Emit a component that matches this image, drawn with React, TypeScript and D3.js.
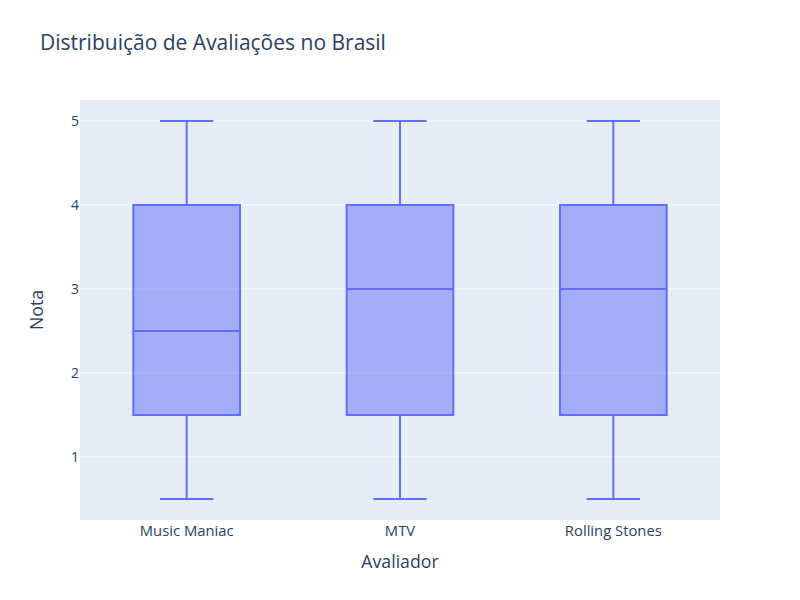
import React from "react";
import * as d3 from "d3";

const categories = ["Music Maniac", "MTV", "Rolling Stones"];
const mins = [0.5, 0.5, 0.5];
const q1s = [1.5, 1.5, 1.5];
const medians = [2.5, 3, 3];
const q3s = [4, 4, 4];
const maxs = [5, 5, 5];
const yTicks = [1, 2, 3, 4, 5];

const W = 800, H = 600;
const M = { l: 80, r: 80, t: 100, b: 80 };
const FONT = '"Open Sans", "Noto Sans", sans-serif';
const TXT = "#2a3f5f";
const LINE = "#636efa";

export default function App() {
  const x = d3.scaleBand<string>().domain(categories).range([M.l, W - M.r]).padding(0);
  const y = d3.scaleLinear().domain([0.25, 5.25]).range([H - M.b, M.t]);
  const bw = x.bandwidth() * 0.5;
  const ww = bw * 0.5;
  return (
    <svg width={W} height={H} style={{ position: "absolute", left: 0, top: 0, background: "#fff" }}>
      <rect x={M.l} y={M.t} width={W - M.l - M.r} height={H - M.t - M.b} fill="#E5ECF6" />
      {yTicks.map((t) => (
        <g key={t}>
          <line x1={M.l} x2={W - M.r} y1={y(t)} y2={y(t)} stroke="#fff" strokeWidth={1} />
          <text x={M.l - 1} y={y(t)} dy="0.36em" textAnchor="end" fontFamily={FONT} fontSize={14} fill={TXT}>
            {t}
          </text>
        </g>
      ))}
      {categories.map((c, i) => {
        const cx = (x(c) as number) + x.bandwidth() / 2;
        return (
          <g key={c}>
            <line x1={cx} x2={cx} y1={y(maxs[i])} y2={y(q3s[i])} stroke={LINE} strokeWidth={2} />
            <line x1={cx} x2={cx} y1={y(q1s[i])} y2={y(mins[i])} stroke={LINE} strokeWidth={2} />
            <line x1={cx - ww / 2} x2={cx + ww / 2} y1={y(maxs[i])} y2={y(maxs[i])} stroke={LINE} strokeWidth={2} />
            <line x1={cx - ww / 2} x2={cx + ww / 2} y1={y(mins[i])} y2={y(mins[i])} stroke={LINE} strokeWidth={2} />
            <rect
              x={cx - bw / 2}
              y={y(q3s[i])}
              width={bw}
              height={y(q1s[i]) - y(q3s[i])}
              fill="rgba(99,110,250,0.5)"
              stroke={LINE}
              strokeWidth={2}
            />
            <line x1={cx - bw / 2} x2={cx + bw / 2} y1={y(medians[i])} y2={y(medians[i])} stroke={LINE} strokeWidth={2} />
            <text x={cx} y={H - M.b + 16} textAnchor="middle" fontFamily={FONT} fontSize={14.8} fill={TXT}>
              {c}
            </text>
          </g>
        );
      })}
      <text x={40} y={50} fontFamily={FONT} fontSize={21} fill={TXT}>
        Distribuição de Avaliações no Brasil
      </text>
      <text x={(M.l + W - M.r) / 2} y={568} textAnchor="middle" fontFamily={FONT} fontSize={17.7} fill={TXT}>
        Avaliador
      </text>
      <text
        transform={`translate(43,${(M.t + H - M.b) / 2}) rotate(-90)`}
        textAnchor="middle"
        fontFamily={FONT}
        fontSize={17.7}
        fill={TXT}
      >
        Nota
      </text>
    </svg>
  );
}
